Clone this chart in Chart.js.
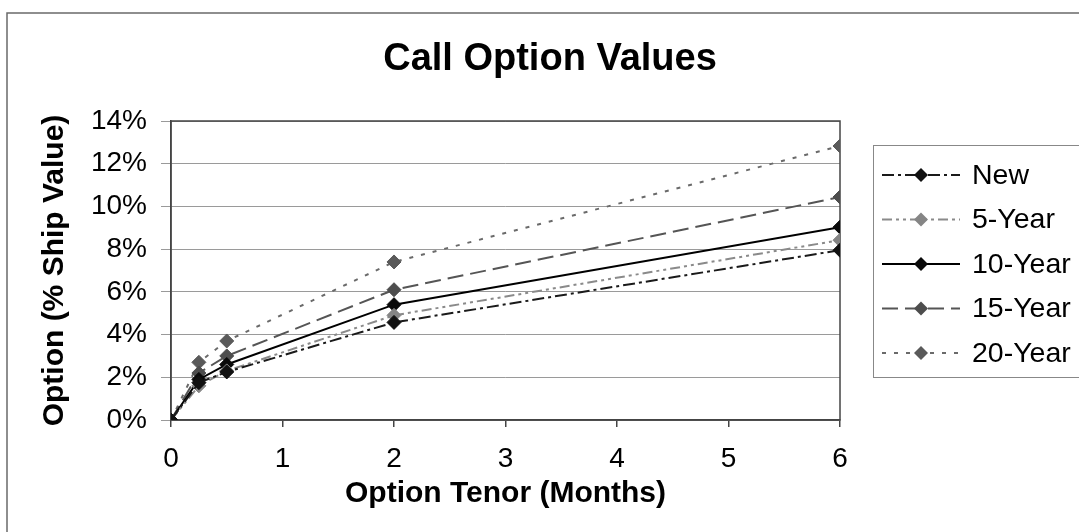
<!DOCTYPE html>
<html><head><meta charset="utf-8">
<script src="https://cdn.jsdelivr.net/npm/chart.js@4.4.1/dist/chart.umd.min.js"></script>
<style>html,body{margin:0;padding:0;background:#fff;overflow:hidden}#wrap{width:1079px;height:532px;position:relative}</style>
</head><body><div id="wrap"><canvas id="c" width="1079" height="532"></canvas></div>
<script>
// ---- data ----
const tenorMonths = [0, 0.25, 0.5, 2, 6];
const seriesNames = ['New', '5-Year', '10-Year', '15-Year', '20-Year'];
const valNew   = [0, 1.75, 2.25, 4.57, 7.95];
const val5Yr   = [0, 1.60, 2.30, 4.90, 8.42];
const val10Yr  = [0, 1.90, 2.60, 5.40, 9.03];
const val15Yr  = [0, 2.20, 3.00, 6.10, 10.44];
const val20Yr  = [0, 2.70, 3.70, 7.40, 12.83];
const yTickValues = [0, 2, 4, 6, 8, 10, 12, 14];
const xTickValues = [0, 1, 2, 3, 4, 5, 6];
const chartTitle = 'Call Option Values';
const xTitle = 'Option Tenor (Months)';
const yTitle = 'Option (% Ship Value)';

// ---- styles ----
const FONT = "'Liberation Sans', Arial, sans-serif";
const styles = [
  {line:'#1a1a1a', point:'#111111', dash:[12,4,3,4]},
  {line:'#8a8a8a', point:'#858585', dash:[10,4,3,4,3,4]},
  {line:'#000000', point:'#0a0a0a', dash:[]},
  {line:'#555555', point:'#4d4d4d', dash:[16,7]},
  {line:'#6a6a6a', point:'#5a5a5a', dash:[4,8]}
];
const allValues = [valNew, val5Yr, val10Yr, val15Yr, val20Yr];
const PR = 7;

const datasets = allValues.map((vals, i) => ({
  label: seriesNames[i],
  data: tenorMonths.map((t, k) => ({x: t, y: vals[k]})),
  borderColor: styles[i].line,
  borderWidth: 2,
  borderDash: styles[i].dash,
  pointStyle: 'rectRot',
  pointRadius: PR,
  pointBackgroundColor: styles[i].point,
  pointBorderColor: styles[i].point,
  pointBorderWidth: 1,
  tension: 0,
  fill: false
}));

const decor = {
  id: 'decor',
  beforeDraw(chart) {
    const ctx = chart.ctx;
    ctx.save();
    ctx.fillStyle = '#fff';
    ctx.fillRect(0, 0, chart.width, chart.height);
    ctx.strokeStyle = '#6a6a6a';
    ctx.lineWidth = 1.5;
    ctx.beginPath();
    ctx.moveTo(7, 540); ctx.lineTo(7, 13); ctx.lineTo(1090, 13);
    ctx.stroke();
    ctx.fillStyle = '#000';
    ctx.font = 'bold 38px ' + FONT;
    ctx.textAlign = 'center';
    ctx.textBaseline = 'alphabetic';
    ctx.fillText(chartTitle, 550, 70);
    ctx.restore();
  },
  beforeDatasetsDraw(chart) {
    const {ctx, chartArea: a} = chart;
    ctx.save();
    ctx.strokeStyle = '#444';
    ctx.lineWidth = 1.5;
    ctx.strokeRect(a.left, a.top, a.right - a.left, a.bottom - a.top);
    ctx.restore();
  },
  afterDraw(chart) {
    const ctx = chart.ctx;
    ctx.save();
    ctx.strokeStyle = '#888';
    ctx.lineWidth = 1;
    ctx.strokeRect(873.5, 145.5, 220, 232);
    seriesNames.forEach((name, i) => {
      const y = 175 + i * 44.5;
      const s = styles[i];
      ctx.strokeStyle = s.line;
      ctx.lineWidth = 2;
      ctx.setLineDash(s.dash);
      ctx.beginPath(); ctx.moveTo(882, y); ctx.lineTo(960, y); ctx.stroke();
      ctx.setLineDash([]);
      ctx.fillStyle = s.point;
      ctx.beginPath();
      ctx.moveTo(921, y - PR); ctx.lineTo(921 + PR, y); ctx.lineTo(921, y + PR); ctx.lineTo(921 - PR, y);
      ctx.closePath(); ctx.fill();
      ctx.fillStyle = '#000';
      ctx.font = '28.5px ' + FONT;
      ctx.textAlign = 'left';
      ctx.textBaseline = 'middle';
      ctx.fillText(name, 972, y + 1);
    });
    ctx.restore();
  }
};

new Chart(document.getElementById('c'), {
  type: 'line',
  data: {datasets},
  plugins: [decor],
  options: {
    responsive: false,
    devicePixelRatio: 1,
    animation: false,
    layout: {padding: {top: 121, right: 239, bottom: 0, left: 0}},
    plugins: {legend: {display: false}, title: {display: false}, tooltip: {enabled: false}},
    scales: {
      x: {
        type: 'linear', min: 0, max: 6,
        afterBuildTicks: s => { s.ticks = xTickValues.map(v => ({value: v})); },
        afterFit: s => { s.height = 112; },
        grid: {drawOnChartArea: false, drawTicks: true, tickLength: 7, color: '#444', lineWidth: 1.5},
        border: {display: true, color: '#444', width: 1.5},
        ticks: {color: '#000', font: {family: FONT, size: 28}, padding: 15, maxRotation: 0},
        title: {display: true, text: xTitle, color: '#000', font: {family: FONT, size: 30, weight: 'bold'}, padding: {top: 0, bottom: 20}}
      },
      y: {
        type: 'linear', min: 0, max: 14,
        afterBuildTicks: s => { s.ticks = yTickValues.map(v => ({value: v})); },
        afterFit: s => { s.width = 171; },
        grid: {drawOnChartArea: true, drawTicks: true, tickLength: 10, color: '#9a9a9a', lineWidth: 1},
        border: {display: true, color: '#444', width: 1.5},
        ticks: {color: '#000', font: {family: FONT, size: 28}, padding: 14, callback: v => v + '%'},
        title: {display: true, text: yTitle, color: '#000', font: {family: FONT, size: 30, weight: 'bold'}, padding: {top: 37, bottom: 0}}
      }
    }
  }
});
</script>
</body></html>
